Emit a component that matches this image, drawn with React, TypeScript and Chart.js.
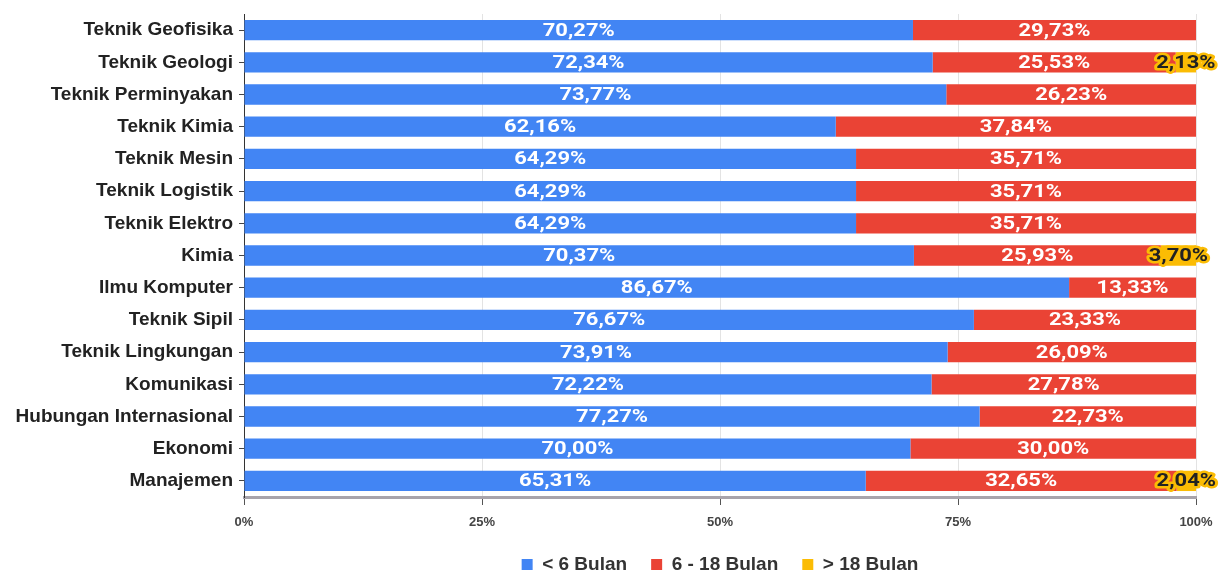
import React, { useEffect, useRef } from "react";
import { Chart, registerables } from "chart.js";

Chart.register(...registerables);

const categories = [
  "Teknik Geofisika",
  "Teknik Geologi",
  "Teknik Perminyakan",
  "Teknik Kimia",
  "Teknik Mesin",
  "Teknik Logistik",
  "Teknik Elektro",
  "Kimia",
  "Ilmu Komputer",
  "Teknik Sipil",
  "Teknik Lingkungan",
  "Komunikasi",
  "Hubungan Internasional",
  "Ekonomi",
  "Manajemen",
];

const under6 = [70.27, 72.34, 73.77, 62.16, 64.29, 64.29, 64.29, 70.37, 86.67, 76.67, 73.91, 72.22, 77.27, 70.0, 65.31];
const between6and18 = [29.73, 25.53, 26.23, 37.84, 35.71, 35.71, 35.71, 25.93, 13.33, 23.33, 26.09, 27.78, 22.73, 30.0, 32.65];
const over18 = [0, 2.13, 0, 0, 0, 0, 0, 3.7, 0, 0, 0, 0, 0, 0, 2.04];

const seriesNames = ["< 6 Bulan", "6 - 18 Bulan", "> 18 Bulan"];
const xTicks = [0, 25, 50, 75, 100];

const BLUE = "#4285F4";
const RED = "#EA4335";
const YELLOW = "#FBBC04";

const fmt = (v: number) => v.toFixed(2).replace(".", ",") + "%";

const labelPlugin = {
  id: "segLabels",
  afterDatasetsDraw(chart: any) {
    const ctx = chart.ctx;
    chart.data.datasets.forEach((ds: any, di: number) => {
      const meta = chart.getDatasetMeta(di);
      meta.data.forEach((el: any, i: number) => {
        const v = ds.data[i];
        if (!v) return;
        const props = el.getProps(["x", "y", "base"], true);
        const cx = (props.x + props.base) / 2;
        const cy = props.y;
        ctx.save();
        ctx.translate(cx, cy);
        ctx.scale(1.22, 1);
        ctx.font = "bold 18px Roboto";
        ctx.textAlign = "center";
        ctx.textBaseline = "middle";
        const t = fmt(v);
        if (di === 2) {
          ctx.lineJoin = "round";
          ctx.lineWidth = 5;
          ctx.strokeStyle = YELLOW;
          ctx.strokeText(t, 0, 1);
          ctx.fillStyle = "#222";
          ctx.fillText(t, 0, 1);
        } else {
          ctx.fillStyle = "#ffffff";
          ctx.fillText(t, 0, 1);
        }
        ctx.restore();
      });
    });
  },
};

export default function App() {
  const ref = useRef<HTMLCanvasElement | null>(null);
  useEffect(() => {
    if (!ref.current) return;
    const chart = new Chart(ref.current, {
      type: "bar",
      data: {
        labels: categories,
        datasets: [
          { label: seriesNames[0], data: under6, backgroundColor: BLUE },
          { label: seriesNames[1], data: between6and18, backgroundColor: RED },
          { label: seriesNames[2], data: over18, backgroundColor: YELLOW },
        ],
      },
      plugins: [labelPlugin],
      options: {
        indexAxis: "y",
        animation: false,
        responsive: true,
        maintainAspectRatio: false,
        layout: { padding: { top: 14, right: 30, left: 0, bottom: -9 } },
        datasets: { bar: { barPercentage: 0.63, categoryPercentage: 1 } },
        scales: {
          x: {
            stacked: true,
            min: 0,
            max: 100,
            afterBuildTicks(scale: any) {
              scale.ticks = xTicks.map((v) => ({ value: v }));
            },
            afterFit(scale: any) {
              scale.height = 34;
              scale.paddingLeft = 0;
              scale.paddingRight = 0;
            },
            grid: { color: "#e3e3e3", tickLength: 8, tickColor: "#555" },
            border: { color: "#a8a4ab", width: 3 },
            ticks: {
              padding: 10,
              color: "#444",
              font: { family: "Liberation Sans", weight: "bold", size: 13 },
              callback: (v: any) => v + "%",
            },
          },
          y: {
            stacked: true,
            afterFit(scale: any) {
              scale.width = 244;
              scale.paddingTop = 0;
              scale.paddingBottom = 0;
            },
            grid: { display: true, offset: false, drawOnChartArea: false, tickLength: 5, color: "#444", lineWidth: 1 },
            border: { color: "#333", width: 1 },
            ticks: {
              padding: 6,
              color: "#222",
              font: { family: "Liberation Sans", weight: "bold", size: 19 },
            },
          },
        },
        plugins: {
          legend: {
            position: "bottom",
            fullSize: false,
            labels: {
              boxWidth: 11,
              boxHeight: 11,
              padding: 24,
              color: "#333",
              font: { family: "Liberation Sans", weight: "bold", size: 19 },
            },
          },
          tooltip: { enabled: false },
        },
      },
    } as any);
    return () => chart.destroy();
  }, []);
  return (
    <div style={{ position: "fixed", left: 0, top: 0, width: 1226, height: 575, background: "#fff" }}>
      <canvas ref={ref} />
    </div>
  );
}
